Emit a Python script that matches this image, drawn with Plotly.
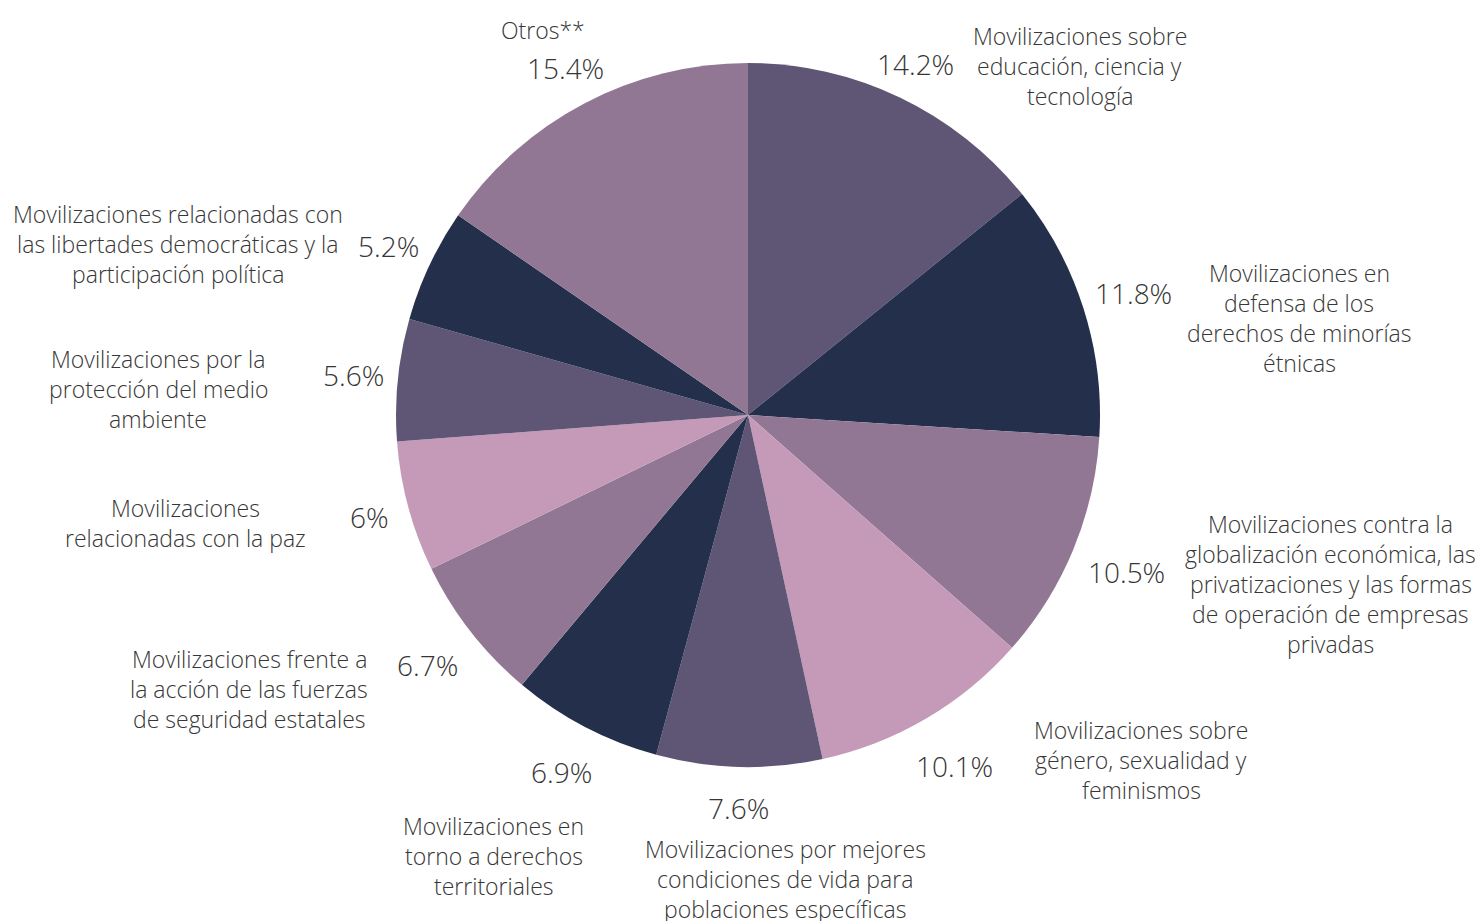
import math
import plotly.graph_objects as go

# ---------------- data ----------------
categories = [
    "Movilizaciones sobre\neducación, ciencia y\ntecnología",
    "Movilizaciones en\ndefensa de los\nderechos de minorías\nétnicas",
    "Movilizaciones contra la\nglobalización económica, las\nprivatizaciones y las formas\nde operación de empresas\nprivadas",
    "Movilizaciones sobre\ngénero, sexualidad y\nfeminismos",
    "Movilizaciones por mejores\ncondiciones de vida para\npoblaciones específicas",
    "Movilizaciones en\ntorno a derechos\nterritoriales",
    "Movilizaciones frente a\nla acción de las fuerzas\nde seguridad estatales",
    "Movilizaciones\nrelacionadas con la paz",
    "Movilizaciones por la\nprotección del medio\nambiente",
    "Movilizaciones relacionadas con\nlas libertades democráticas y la\nparticipación política",
    "Otros**",
]
values = [14.2, 11.8, 10.5, 10.1, 7.6, 6.9, 6.7, 6.0, 5.6, 5.2, 15.4]
pct_labels = ["14.2%", "11.8%", "10.5%", "10.1%", "7.6%", "6.9%", "6.7%", "6%", "5.6%", "5.2%", "15.4%"]

# ---------------- style / layout ----------------
W, H = 1481, 921                    # browser window / figure size
CX, CY, R = 748, 415, 352           # pie centre and radius (pixels)
# distance of each percentage label from the pie centre (pixels)
pct_dist = [389, 404, 410, 407, 393, 403, 407, 392, 397, 397, 392]
slice_colors = ["#5f5574", "#232f4b", "#927795", "#c49ab8"]
colors = [slice_colors[i % 4] for i in range(len(values))]
# label block centre offset relative to its percentage label (pixels)
label_offsets = [(164, 2), (166, 25), (204, 12), (187, -6), (47, 71), (-68, 84),
                 (-178, 24), (-184, 6), (-195, 14), (-211, -2), (-23, -38)]
LINE_H = 30
FONT = "Open Sans"
TXT_COLOR = "#363636"


def px2paper(x, y):
    return x / W, 1 - y / H


x0, _ = px2paper(CX - R - 40, 0)
x1, _ = px2paper(CX + R + 40, 0)
_, y1 = px2paper(0, CY - R)
_, y0 = px2paper(0, CY + R)

fig = go.Figure()
fig.add_trace(go.Pie(
    values=values,
    labels=[c.replace("\n", " ") for c in categories],
    sort=False,
    direction="clockwise",
    rotation=0,
    marker=dict(colors=colors, line=dict(width=0)),
    textinfo="none",
    hoverinfo="label+percent",
    domain=dict(x=[x0, x1], y=[y0, y1]),
    showlegend=False,
))

annotations = []
total = sum(values)
cum = 0.0
for i, v in enumerate(values):
    mid = (cum + v / 2) / total * 2 * math.pi
    cum += v
    px = CX + pct_dist[i] * math.sin(mid)
    py = CY - pct_dist[i] * math.cos(mid)
    ax, ay = px2paper(px, py)
    annotations.append(dict(x=ax, y=ay, xref="paper", yref="paper", text=pct_labels[i],
                            showarrow=False, xanchor="center", yanchor="middle",
                            font=dict(family=FONT, size=28, color=TXT_COLOR, weight=300)))
    lines = categories[i].split("\n")
    lx = px + label_offsets[i][0]
    ly0 = py + label_offsets[i][1] - (len(lines) - 1) * LINE_H / 2
    for j, line in enumerate(lines):
        bx, by = px2paper(lx, ly0 + j * LINE_H)
        annotations.append(dict(x=bx, y=by, xref="paper", yref="paper", text=line,
                                showarrow=False, xanchor="center", yanchor="middle",
                                font=dict(family=FONT, size=23, color=TXT_COLOR, weight=300)))

fig.update_layout(
    width=W, height=H,
    margin=dict(l=0, r=0, t=0, b=0),
    paper_bgcolor="white",
    plot_bgcolor="white",
    annotations=annotations,
)

fig.write_html("out.html",
               config={"displayModeBar": False},
               post_script="document.body.style.margin='0';document.body.style.overflow='hidden';")
